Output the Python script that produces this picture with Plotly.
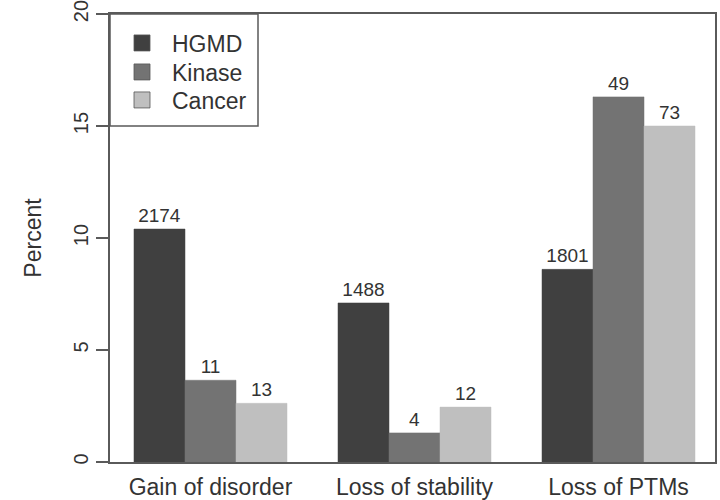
import plotly.graph_objects as go

categories = ["Gain of disorder", "Loss of stability", "Loss of PTMs"]
series_names = ["HGMD", "Kinase", "Cancer"]
hgmd = [10.4, 7.1, 8.6]
kinase = [3.65, 1.3, 16.3]
cancer = [2.62, 2.45, 15.0]
hgmd_counts = ["2174", "1488", "1801"]
kinase_counts = ["11", "4", "49"]
cancer_counts = ["13", "12", "73"]
y_ticks = [0, 5, 10, 15, 20]

colors = ["#404040", "#737373", "#bfbfbf"]
FONT = "Liberation Sans, Arial, sans-serif"
TXT = "#333333"
LINE = "#5a5a5a"

W, H = 720, 500
L, R, T, B = 110, 5, 14, 38
pw = W - L - R
ph = H - T - B
legend_rows = [43, 72, 100]   # pixel centres of legend rows (layout only)
legend_ids = ["legend", "legend2", "legend3"]

fig = go.Figure()
for name, vals, cnts, col, lid in zip(series_names, [hgmd, kinase, cancer],
                                      [hgmd_counts, kinase_counts, cancer_counts],
                                      colors, legend_ids):
    fig.add_trace(go.Bar(
        x=categories, y=vals, name=name, text=cnts,
        textposition="outside", constraintext="none", cliponaxis=False,
        textfont=dict(size=19, color=TXT, family=FONT),
        marker=dict(color=col, line=dict(color=col, width=0.5)),
        showlegend=False, hoverinfo="skip",
    ))
    fig.add_trace(go.Scatter(
        x=[None], y=[None], mode="markers", name=name, legend=lid,
        marker=dict(symbol="square", size=19, color=col,
                    line=dict(color="#555555", width=0.8)),
        showlegend=True,
    ))

legend_common = dict(
    xanchor="left", yanchor="middle",
    bgcolor="rgba(0,0,0,0)", borderwidth=0,
    font=dict(size=23, color=TXT, family=FONT),
    itemwidth=50,
)
layout_legends = {}
for lid, row in zip(legend_ids, legend_rows):
    layout_legends[lid] = dict(x=(112 - L) / pw, y=1 - (row - T) / ph, **legend_common)

fig.update_layout(
    width=W, height=H,
    margin=dict(l=L, r=R, t=T, b=B, pad=0, autoexpand=False),
    paper_bgcolor="white", plot_bgcolor="white",
    barmode="group", bargap=0.25, bargroupgap=0,
    font=dict(family=FONT, size=23, color=TXT),
    showlegend=True,
    xaxis=dict(
        type="category", range=[-0.4926, 2.473], automargin=False,
        showline=True, linecolor=LINE, linewidth=1.5, mirror=True,
        ticks="", showgrid=False, zeroline=False, ticklabelstandoff=4,
        tickfont=dict(size=23, color=TXT, family=FONT),
    ),
    yaxis=dict(
        range=[0, 20], tickvals=y_ticks, ticktext=[str(v) for v in y_ticks],
        automargin=False,
        showline=True, linecolor=LINE, linewidth=1.5, mirror=True,
        ticks="outside", ticklen=12, tickwidth=1.5, tickcolor=LINE,
        tickangle=-90, showgrid=False, zeroline=False,
        ticklabeloverflow="allow", ticklabelstandoff=0,
        tickfont=dict(size=20, color=TXT, family=FONT),
        title=dict(text="Percent", standoff=22,
                   font=dict(size=23, color=TXT, family=FONT)),
    ),
    shapes=[dict(
        type="rect", xref="paper", yref="paper",
        x0=0, x1=(258 - L) / pw, y0=1 - (126 - T) / ph, y1=1,
        line=dict(color=LINE, width=1.5), fillcolor="rgba(0,0,0,0)",
    )],
    **layout_legends,
)

fig.write_html("out.html", config={"displayModeBar": False},
               post_script="document.body.style.margin='0px';")
